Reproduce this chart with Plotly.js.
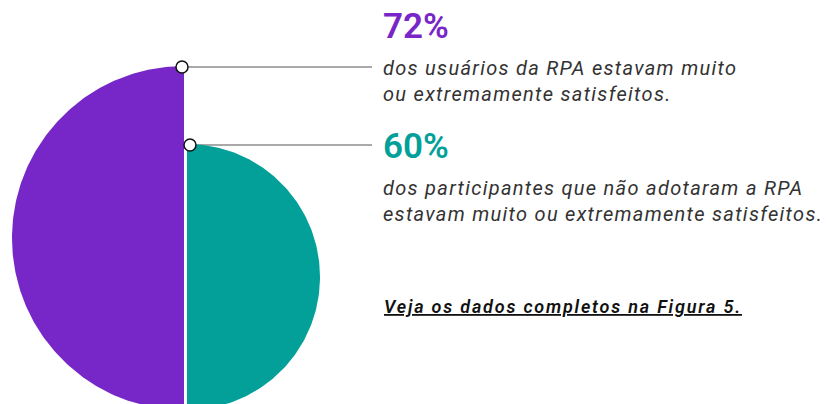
<!DOCTYPE html>
<html><head><meta charset="utf-8">
<script src="https://cdn.plot.ly/plotly-3.0.1.min.js"></script>
<style>
html,body{margin:0;padding:0;background:#fff}#chart{width:827px;height:404px}
#chart g.annotation[data-index="1"] text,
#chart g.annotation[data-index="3"] text{letter-spacing:1.3px}
#chart g.annotation[data-index="4"] text{letter-spacing:1.8px}
</style>
</head><body><div id="chart"></div>
<script>
// ---- data ----
const categories = ["Usuários da RPA", "Não adotaram a RPA"];
const values = [72, 60];
const valueLabels = ["72%", "60%"];
const descriptions = [
  "dos usuários da RPA estavam muito<br>ou extremamente satisfeitos.",
  "dos participantes que não adotaram a RPA<br>estavam muito ou extremamente satisfeitos."
];
const footnote = "Veja os dados completos na Figura 5.";

// ---- styling / geometry ----
const colors = ["#7726c7", "#03a09a"];
const maxR = 172;
function radiusFor(v){ return maxR * Math.pow(v / Math.max(...values), 1.41); }
const centersX = [184, 187];
const baseY = 410;
const sides = [-1, 1]; // left half, right half

function halfDisc(cx, cy, r, side){
  const xs = [], ys = [];
  const n = 180;
  for (let i = 0; i <= n; i++){
    const a = -Math.PI/2 + Math.PI * i / n; // -90..90
    xs.push(cx + side * r * Math.cos(a));
    ys.push(cy + r * Math.sin(a));
  }
  xs.push(cx); ys.push(cy - r);
  return {xs, ys};
}

const traces = [];
const annotations = [];
const shapes = [];
values.forEach((v, i) => {
  const r = radiusFor(v);
  const cy = baseY - r;
  const d = halfDisc(centersX[i], cy, r, sides[i]);
  traces.push({
    type: "scatter", mode: "lines", x: d.xs, y: d.ys, fill: "toself",
    fillcolor: colors[i], line: {width: 0, color: colors[i]},
    name: categories[i], hoverinfo: "name", showlegend: false
  });
});
// leader lines + markers
const topYs = values.map(v => baseY - 2 * radiusFor(v));
const markerX = [182, 190];
traces.push({
  type: "scatter", mode: "markers", x: markerX, y: topYs.map(y => y + 1),
  marker: {size: 12, color: "#fff", line: {color: "#111", width: 1.5}},
  hoverinfo: "skip", showlegend: false, cliponaxis: false
});
values.forEach((v, i) => {
  shapes.push({type: "line", xref: "x", yref: "y", x0: markerX[i] + 6, x1: 372,
    y0: topYs[i] + 1, y1: topYs[i] + 1, line: {color: "#555", width: 1.2}, layer: "below"});
});
const labelY = [26, 146];
const descY = [81, 201];
values.forEach((v, i) => {
  annotations.push({x: 381, y: labelY[i], xref: "x", yref: "y", xanchor: "left", yanchor: "middle",
    text: valueLabels[i], showarrow: false,
    font: {family: "Roboto, sans-serif", size: 35, weight: 600, color: colors[i]}});
  annotations.push({x: 381, y: descY[i], xref: "x", yref: "y", xanchor: "left", yanchor: "middle",
    text: descriptions[i], showarrow: false, align: "left",
    font: {family: "Roboto, sans-serif", size: 20, style: "italic", color: "#333"}});
});
annotations.push({x: 382, y: 306, xref: "x", yref: "y", xanchor: "left", yanchor: "middle",
  text: footnote, showarrow: false, align: "left",
  font: {family: "Roboto, sans-serif", size: 18, style: "italic", weight: 600, color: "#111", lineposition: "under"}});

const layout = {
  width: 827, height: 404, margin: {l: 0, r: 0, t: 0, b: 0},
  paper_bgcolor: "#fff", plot_bgcolor: "#fff",
  xaxis: {range: [0, 827], visible: false, fixedrange: true},
  yaxis: {range: [404, 0], visible: false, fixedrange: true},
  annotations, shapes, showlegend: false
};
Plotly.newPlot("chart", traces, layout, {displayModeBar: false, staticPlot: true});
</script></body></html>
